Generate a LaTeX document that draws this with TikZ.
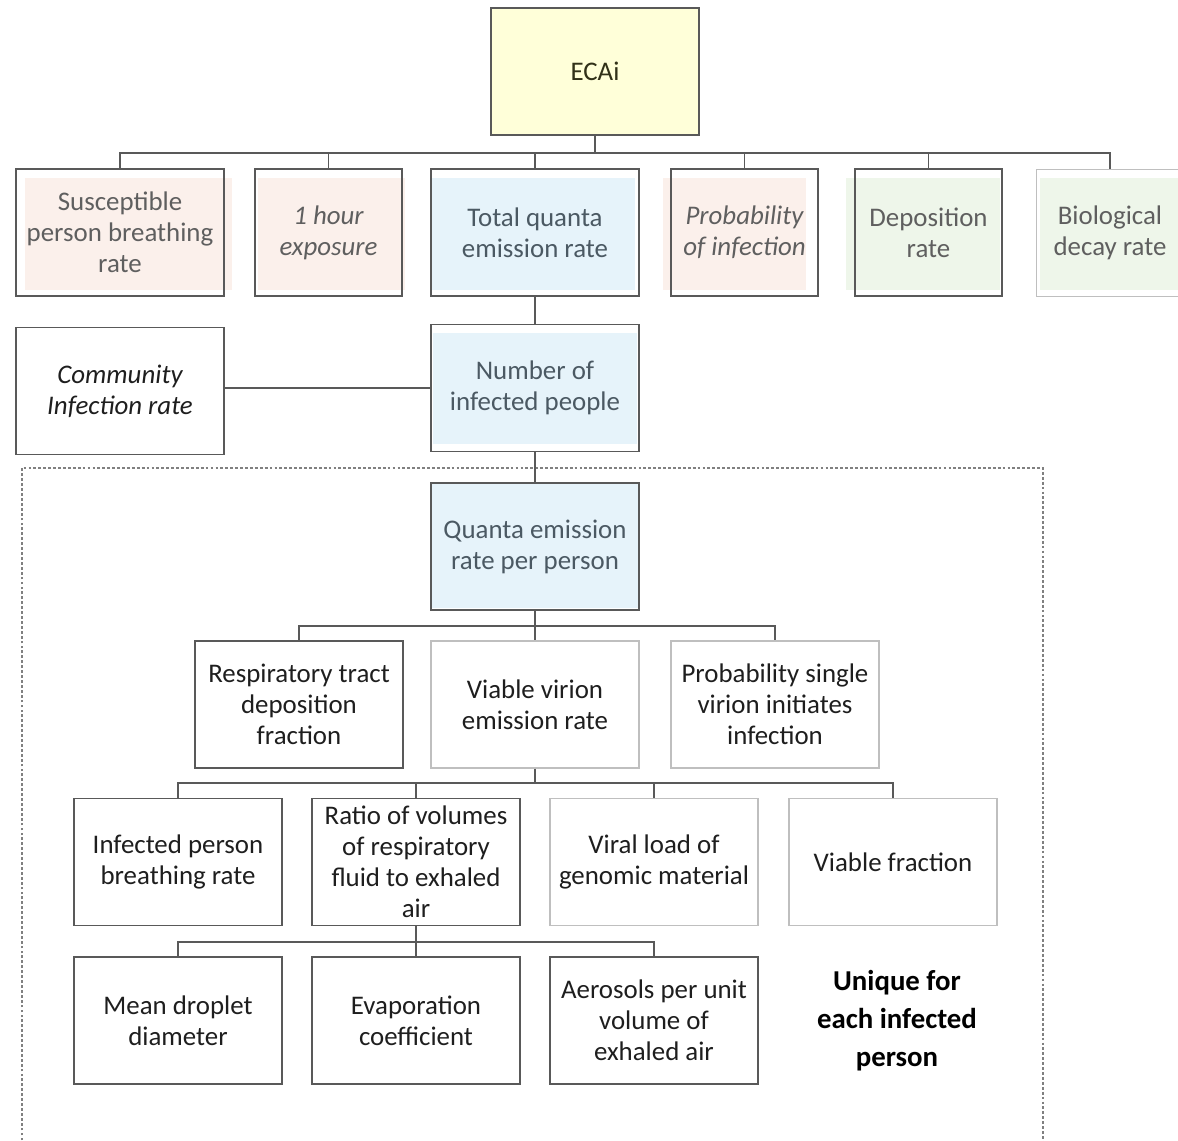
\documentclass[tikz,border=0pt]{standalone}
\usepackage{fontspec}
\setmainfont{Carlito}
\definecolor{edgedark}{HTML}{595959}
\definecolor{edgelight}{HTML}{BFBFBF}
\definecolor{tintyellow}{HTML}{FFFFD9}
\definecolor{tintpink}{HTML}{FBF0EB}
\definecolor{tintblue}{HTML}{E6F3FA}
\definecolor{tintgreen}{HTML}{EEF6EA}
\definecolor{txtgray}{HTML}{5F5F5F}
\definecolor{txtblue}{HTML}{4B5963}
\definecolor{txtdark}{HTML}{1E1E1E}
\begin{document}
\begin{tikzpicture}[
	x=0.02cm, y=-0.02cm,
	box/.style={draw=edgedark, line width=0.8pt, inner sep=0pt, align=center,
		minimum width=4.16cm, minimum height=2.54cm,
		font=\fontsize{15.3}{17.6}\selectfont, text=txtdark},
	narrow/.style={box, minimum width=2.94cm},
	slanted/.style={font=\fontsize{15.3}{17.6}\selectfont\itshape},
	faint/.style={draw=edgelight},
	upper/.style={text=txtgray},
	bluetxt/.style={text=txtblue},
	link/.style={draw=edgedark, line width=0.7pt},
	frame/.style={draw=gray, line width=0.6pt, dash pattern=on 1.6pt off 1.2pt},
	note/.style={align=center, font=\fontsize{16.4}{21.6}\selectfont\bfseries}
]
\clip (0,0) rectangle (1178,1141);

% Tints behind the boxes (slightly offset, as in the source slide)
\fill[tintyellow] (491,8) rectangle (699,135);
\fill[tintpink] (25,178) rectangle (232,290);
\fill[tintpink] (258,178) rectangle (405,290);
\fill[tintblue] (432,178) rectangle (635,290);
\fill[tintpink] (663,178) rectangle (806,290);
\fill[tintgreen] (846,178) rectangle (1000,290);
\fill[tintgreen] (1040,178) rectangle (1178,290);
\fill[tintblue] (433,333) rectangle (637,444);
\fill[tintblue] (432,484) rectangle (638,608);

% Dashed region (open at the bottom)
\draw[frame] (22,1160) |- (1043,468) -- (1043,1160);

% Top
\node[box, text=txtdark!80!olive] (ecai) at (595,71.5) {ECAi};

% First level
\node[box, upper] (susc) at (120,232.5) {Susceptible\\person breathing\\rate};
\node[narrow, upper, slanted] (hour) at (328.5,232.5) {1 hour\\exposure};
\node[box, bluetxt] (total) at (535,232.5) {Total quanta\\emission rate};
\node[narrow, upper, slanted] (probinf) at (744.5,232.5) {Probability\\of infection};
\node[narrow, upper] (depo) at (928.5,232.5) {Deposition\\rate};
\node[narrow, upper, faint] (decay) at (1110,233) {Biological\\decay rate};

% Infected people
\node[box, slanted] (community) at (120,391) {Community\\Infection rate};
\node[box, bluetxt] (number) at (535,388) {Number of\\infected people};
\node[box, bluetxt] (quanta) at (535,546.5) {Quanta emission\\rate per person};

% Per person
\node[box] (resp) at (299,704.5) {Respiratory tract\\deposition\\fraction};
\node[box, faint] (virion) at (535,704.5) {Viable virion\\emission rate};
\node[box, faint] (single) at (775,704.5) {Probability single\\virion initiates\\infection};

\node[box] (breath) at (178,862) {Infected person\\breathing rate};
\node[box] (ratio) at (416,862) {Ratio of volumes\\of respiratory\\fluid to exhaled\\air};
\node[box, faint] (viral) at (654,862) {Viral load of\\genomic material};
\node[box, faint] (vfrac) at (893,862) {Viable fraction};

\node[box] (droplet) at (178,1020.5) {Mean droplet\\diameter};
\node[box] (evap) at (416,1020.5) {Evaporation\\coefficient};
\node[box] (aero) at (654,1020.5) {Aerosols per unit\\volume of\\exhaled air};

\node[note] (unique) at (897,1021) {Unique for\\each infected\\person};

% Bus points
\coordinate (bus0) at (595,153);
\coordinate (bus1) at (535,626);
\coordinate (bus2) at (535,783);
\coordinate (bus3) at (416,942);

% Connectors
\draw[link] (ecai.south) -- (bus0);
\foreach \n in {susc,hour,total,probinf,depo,decay}
	\draw[link] (bus0) -| (\n.north);
\draw[link] (total) -- (number);
\draw[link] (number.west) -- (number.west -| community.east);
\draw[link] (number) -- (quanta);
\draw[link] (quanta.south) -- (bus1);
\foreach \n in {resp,virion,single}
	\draw[link] (bus1) -| (\n.north);
\draw[link] (virion.south) -- (bus2);
\foreach \n in {breath,ratio,viral,vfrac}
	\draw[link] (bus2) -| (\n.north);
\draw[link] (ratio.south) -- (bus3);
\foreach \n in {droplet,evap,aero}
	\draw[link] (bus3) -| (\n.north);
\end{tikzpicture}
\end{document}
